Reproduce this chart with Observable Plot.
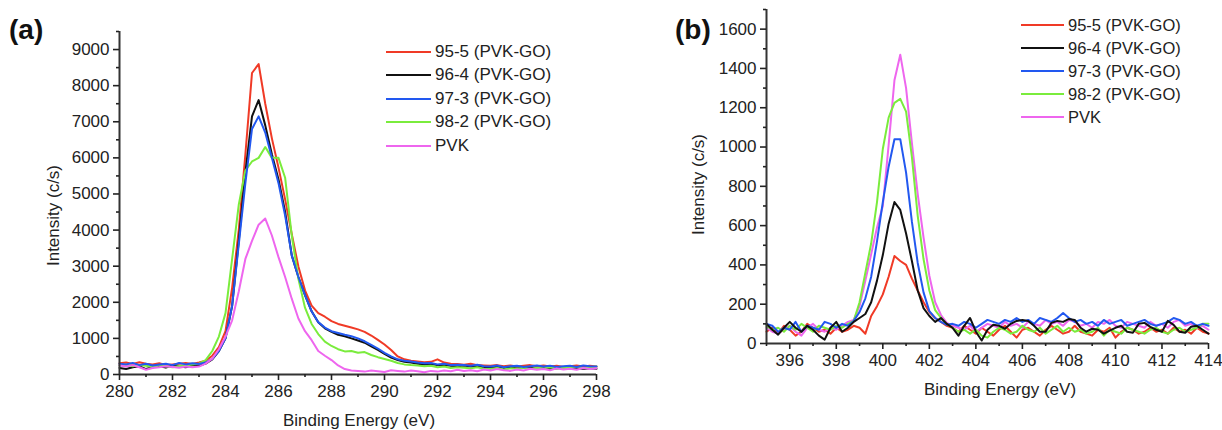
<!DOCTYPE html>
<html>
<head>
<meta charset="utf-8">
<script src="https://cdn.jsdelivr.net/npm/d3@7"></script>
<script src="https://cdn.jsdelivr.net/npm/@observablehq/plot@0.6"></script>
<style>
  html, body { margin: 0; padding: 0; background: #fff; }
  #wrap { position: relative; width: 1222px; height: 430px; overflow: hidden;
          font-family: "Liberation Sans", Arial, sans-serif; color: #222; }
  .panel { position: absolute; top: 0; }
  .tag { position: absolute; font-weight: bold; font-size: 28px; line-height: 1; color: #111; }
  .legend { position: absolute; font-size: 17px; color: #222; }
  .legend .row { display: flex; align-items: center; white-space: nowrap; }
  .legend .sw { display: inline-block; height: 0; border-top: 2px solid; margin-right: 4px; }
</style>
</head>
<body>
<div id="wrap">
  <div id="pa" class="panel" style="left:0px"></div>
  <div id="pb" class="panel" style="left:640px"></div>
  <div class="tag" style="left:9px;top:16px">(a)</div>
  <div class="tag" style="left:675px;top:16px">(b)</div>
  <div id="lega" class="legend" style="left:386px;top:40px"></div>
  <div id="legb" class="legend" style="left:1021px;top:13.5px"></div>
</div>
<script>
// ---------- series ----------
const seriesNames  = ["95-5 (PVK-GO)", "96-4 (PVK-GO)", "97-3 (PVK-GO)", "98-2 (PVK-GO)", "PVK"];
const seriesColors = ["#f03a26", "#111111", "#2258f0", "#7aec3c", "#ee66ee"];

// ---------- panel (a): C 1s ----------
const energyC = [
  280, 280.25, 280.5, 280.75, 281, 281.25, 281.5, 281.75, 282, 282.25, 282.5, 282.75,
  283, 283.25, 283.5, 283.75, 284, 284.25, 284.5, 284.75, 285, 285.25, 285.5, 285.75,
  286, 286.25, 286.5, 286.75, 287, 287.25, 287.5, 287.75, 288, 288.25, 288.5, 288.75,
  289, 289.25, 289.5, 289.75, 290, 290.25, 290.5, 290.75, 291, 291.25, 291.5, 291.75,
  292, 292.25, 292.5, 292.75, 293, 293.25, 293.5, 293.75, 294, 294.25, 294.5, 294.75,
  295, 295.25, 295.5, 295.75, 296, 296.25, 296.5, 296.75, 297, 297.25, 297.5, 297.75, 298];
const c1s_95_5 = [
  310, 330, 290, 340, 300, 280, 310, 260, 280, 300, 320, 290,
  330, 380, 520, 760, 1200, 2400, 4000, 6100, 8350, 8600, 7500, 6540,
  5730, 4850, 3890, 2990, 2330, 1910, 1700, 1600, 1480, 1400, 1350, 1300,
  1250, 1180, 1080, 960, 830, 680, 500, 420, 380, 360, 340, 350,
  420, 330, 300, 290, 270, 300, 260, 250, 240, 260, 230, 250,
  220, 240, 260, 230, 250, 220, 240, 210, 230, 250, 220, 240, 220];
const c1s_96_4 = [
  180, 150, 200, 230, 150, 200, 230, 190, 250, 220, 200, 260,
  240, 300, 420, 650, 1000, 1900, 3700, 5600, 7150, 7600, 6900, 6100,
  5400, 4500, 3300, 2700, 2200, 1750, 1450, 1280, 1180, 1100, 1060, 1000,
  940, 880, 780, 680, 570, 470, 400, 350, 330, 300, 280, 290,
  260, 270, 240, 230, 250, 220, 230, 200, 190, 220, 180, 200,
  170, 200, 190, 160, 180, 150, 170, 190, 160, 180, 150, 170, 160];
const c1s_97_3 = [
  300, 280, 320, 260, 300, 250, 280, 300, 260, 320, 280, 310,
  290, 330, 430, 650, 1000, 1900, 3600, 5300, 6800, 7150, 6700, 6000,
  5300, 4400, 3300, 2700, 2200, 1750, 1450, 1300, 1200, 1150, 1100, 1060,
  1000, 920, 820, 720, 600, 500, 420, 380, 360, 330, 310, 320,
  280, 300, 260, 270, 260, 240, 270, 230, 220, 250, 200, 230,
  240, 210, 230, 250, 220, 240, 210, 230, 240, 210, 250, 230, 220];
const c1s_98_2 = [
  250, 270, 230, 260, 240, 210, 250, 230, 200, 230, 250, 280,
  300, 400, 650, 1050, 1700, 3200, 4700, 5650, 5900, 6000, 6300, 6000,
  6000, 5450, 3850, 2650, 1850, 1400, 1120, 910, 790, 700, 640, 650,
  600, 620, 540, 480, 430, 380, 320, 280, 260, 250, 230, 240,
  200, 220, 180, 200, 190, 170, 200, 160, 150, 180, 140, 170,
  160, 190, 150, 180, 170, 200, 160, 190, 180, 210, 170, 200, 220];
const c1s_pvk = [
  250, 220, 260, 200, 130, 180, 200, 230, 210, 190, 220, 200,
  220, 300, 440, 700, 1050, 1500, 2300, 3200, 3700, 4150, 4320, 3850,
  3250, 2700, 2100, 1550, 1200, 950, 650, 520, 400, 250, 150, 110,
  100, 80, 110, 90, 70, 120, 100, 80, 110, 90, 60, 100,
  80, 110, 90, 130, 100, 120, 90, 140, 110, 150, 120, 100,
  140, 110, 160, 130, 150, 120, 170, 140, 160, 130, 180, 150, 170];

// ---------- panel (b): N 1s ----------
const energyN = [
  395, 395.25, 395.5, 395.75, 396, 396.25, 396.5, 396.75, 397, 397.25, 397.5, 397.75,
  398, 398.25, 398.5, 398.75, 399, 399.25, 399.5, 399.75, 400, 400.25, 400.5, 400.75,
  401, 401.25, 401.5, 401.75, 402, 402.25, 402.5, 402.75, 403, 403.25, 403.5, 403.75,
  404, 404.25, 404.5, 404.75, 405, 405.25, 405.5, 405.75, 406, 406.25, 406.5, 406.75,
  407, 407.25, 407.5, 407.75, 408, 408.25, 408.5, 408.75, 409, 409.25, 409.5, 409.75,
  410, 410.25, 410.5, 410.75, 411, 411.25, 411.5, 411.75, 412, 412.25, 412.5, 412.75,
  413, 413.25, 413.5, 413.75, 414];
const n1s_95_5 = [
  60, 80, 50, 90, 70, 40, 60, 100, 80, 60, 70, 50,
  80, 60, 70, 90, 80, 50, 140, 190, 250, 340, 445, 420,
  400, 330, 270, 210, 160, 130, 110, 90, 80, 60, 90, 70,
  50, 80, 60, 40, 70, 90, 60, 30, 70, 80, 60, 40,
  70, 90, 70, 50, 60, 90, 60, 50, 40, 70, 60, 80,
  30, 60, 80, 70, 50, 60, 80, 60, 70, 50, 80, 60,
  70, 50, 80, 60, 50];
const n1s_96_4 = [
  100, 70, 45, 80, 110, 80, 60, 90, 70, 40, 20, 80,
  110, 60, 80, 110, 130, 150, 210, 320, 450, 610, 720, 680,
  560, 420, 270, 180, 140, 110, 130, 100, 80, 40, 90, 130,
  60, 15, 70, 95, 90, 75, 100, 115, 120, 115, 90, 60,
  60, 105, 115, 110, 125, 120, 80, 60, 75, 70, 50, 65,
  80, 90, 60, 55, 100, 105, 85, 70, 60, 115, 95, 60,
  55, 85, 90, 70, 50];
const n1s_97_3 = [
  100, 90, 60, 80, 70, 110, 60, 90, 80, 70, 110, 100,
  80, 100, 90, 115, 160, 230, 340, 520, 720, 900, 1040, 1040,
  870, 620, 410, 260, 165, 130, 110, 95, 100, 90, 110, 100,
  80, 100, 120, 110, 100, 120, 110, 130, 110, 120, 100, 130,
  120, 110, 130, 155, 130, 110, 120, 100, 110, 90, 120, 100,
  110, 120, 90, 100, 110, 120, 100, 90, 100, 110, 130, 120,
  100, 110, 90, 100, 90];
const n1s_98_2 = [
  90, 70, 80, 60, 90, 70, 100, 80, 60, 90, 80, 70,
  90, 80, 100, 115, 210, 360, 510, 720, 990, 1150, 1225, 1245,
  1180, 950, 650, 430, 270, 170, 130, 100, 80, 60, 70, 50,
  70, 40, 30, 60, 80, 70, 50, 60, 90, 70, 60, 80,
  50, 70, 90, 60, 80, 60, 70, 50, 60, 80, 40, 70,
  60, 50, 80, 70, 60, 50, 70, 80, 60, 50, 70, 80,
  60, 70, 80, 100, 100];
const n1s_pvk = [
  80, 60, 50, 70, 90, 60, 40, 80, 100, 70, 60, 80,
  70, 90, 110, 120, 190, 320, 455, 590, 700, 1010, 1340, 1470,
  1300, 1020, 760, 540, 345, 210, 145, 105, 90, 80, 70, 90,
  60, 80, 100, 90, 80, 110, 90, 100, 80, 110, 100, 90,
  120, 100, 110, 90, 120, 110, 90, 100, 80, 110, 100, 120,
  90, 80, 110, 100, 90, 80, 110, 90, 100, 80, 110, 120,
  90, 100, 80, 90, 70];

// ---------- axes ----------
const xTicksA = [280, 282, 284, 286, 288, 290, 292, 294, 296, 298];
const xMinorA = [281, 283, 285, 287, 289, 291, 293, 295, 297];
const yTicksA = [0, 1000, 2000, 3000, 4000, 5000, 6000, 7000, 8000, 9000];
const yMinorA = [500, 1500, 2500, 3500, 4500, 5500, 6500, 7500, 8500, 9500];
const xTicksB = [396, 398, 400, 402, 404, 406, 408, 410, 412, 414];
const xMinorB = [395, 397, 399, 401, 403, 405, 407, 409, 411, 413];
const yTicksB = [0, 200, 400, 600, 800, 1000, 1200, 1400, 1600];
const yMinorB = [100, 300, 500, 700, 900, 1100, 1300, 1500, 1700];
const xLabel = "Binding Energy (eV)";
const yLabel = "Intensity (c/s)";

function tidy(energy, seriesList) {
  const rows = [];
  seriesList.forEach((vals, s) => {
    const n = Math.min(vals.length, energy.length);
    for (let i = 0; i < n; i++) rows.push({E: energy[i], I: vals[i], s: seriesNames[s]});
  });
  return rows;
}

const plain = d => String(d);

function panel(cfg) {
  const rows = tidy(cfg.energy, cfg.series);
  const lines = cfg.order.map(k => Plot.line(rows.filter(d => d.s === seriesNames[k]),
    {x: "E", y: "I", stroke: seriesColors[k], strokeWidth: 2, strokeLinejoin: "round"}));
  return Plot.plot({
    width: cfg.width, height: 430,
    marginLeft: cfg.ml, marginRight: cfg.mr, marginTop: cfg.mt, marginBottom: cfg.mb,
    style: {fontFamily: "'Liberation Sans', Arial, sans-serif", fontSize: "17px", color: "#222", background: "transparent"},
    x: {domain: cfg.xDomain},
    y: {domain: cfg.yDomain},
    marks: [
      ...lines,
      Plot.ruleY([cfg.yDomain[0]], {stroke: "#333", strokeWidth: 2}),
      Plot.ruleX([cfg.xDomain[0]], {stroke: "#333", strokeWidth: 2}),
      Plot.axisX(cfg.xTicks, {tickSize: 6, tickPadding: 4, strokeWidth: 1.6, label: null, fontSize: 17, tickFormat: plain}),
      Plot.axisX(cfg.xMinor, {tickSize: 3, strokeWidth: 1.6, label: null, fill: "none", tickFormat: () => ""}),
      Plot.axisY(cfg.yTicks, {tickSize: 6, tickPadding: 4, strokeWidth: 1.6, label: null, fontSize: 17, tickFormat: plain}),
      Plot.axisY(cfg.yMinor, {tickSize: 3, strokeWidth: 1.6, label: null, fill: "none", tickFormat: () => ""}),
      Plot.text([xLabel], {frameAnchor: "bottom", dx: cfg.xlDx, dy: cfg.xlDy, textAnchor: "middle", lineAnchor: "middle", fontSize: 17, fill: "#222"}),
      Plot.text([yLabel], {frameAnchor: "left", rotate: -90, dx: cfg.ylDx, dy: cfg.ylDy, textAnchor: "middle", lineAnchor: "middle", fontSize: 17, fill: "#222"})
    ]
  });
}

document.getElementById("pa").append(panel({
  energy: energyC, series: [c1s_95_5, c1s_96_4, c1s_97_3, c1s_98_2, c1s_pvk],
  order: [0, 1, 3, 2, 4],
  width: 640, ml: 119, mr: 44, mt: 31, mb: 56,
  xDomain: [280, 298], yDomain: [0, 9500],
  xTicks: xTicksA, xMinor: xMinorA, yTicks: yTicksA, yMinor: yMinorA,
  xlDx: 1, xlDy: 46, ylDx: -65.5, ylDy: 12.5
}));
document.getElementById("pb").append(panel({
  energy: energyN, series: [n1s_95_5, n1s_96_4, n1s_97_3, n1s_98_2, n1s_pvk],
  order: [0, 4, 3, 2, 1],
  width: 582, ml: 126, mr: 14, mt: 9, mb: 87,
  xDomain: [395, 414], yDomain: [0, 1700],
  xTicks: xTicksB, xMinor: xMinorB, yTicks: yTicksB, yMinor: yMinorB,
  xlDx: 12.5, xlDy: 46, ylDx: -67.5, ylDy: 8
}));

function legend(id, rowH, swW, fs) {
  const el = document.getElementById(id);
  el.style.fontSize = fs + "px";
  seriesNames.forEach((name, k) => {
    const row = document.createElement("div");
    row.className = "row";
    row.style.height = rowH + "px";
    const sw = document.createElement("span");
    sw.className = "sw";
    sw.style.width = swW + "px";
    sw.style.borderTopColor = seriesColors[k];
    const t = document.createElement("span");
    t.textContent = name;
    row.append(sw, t);
    el.append(row);
  });
}
legend("lega", 23.5, 45, 17);
legend("legb", 23, 43, 16.5);
</script>
</body>
</html>
